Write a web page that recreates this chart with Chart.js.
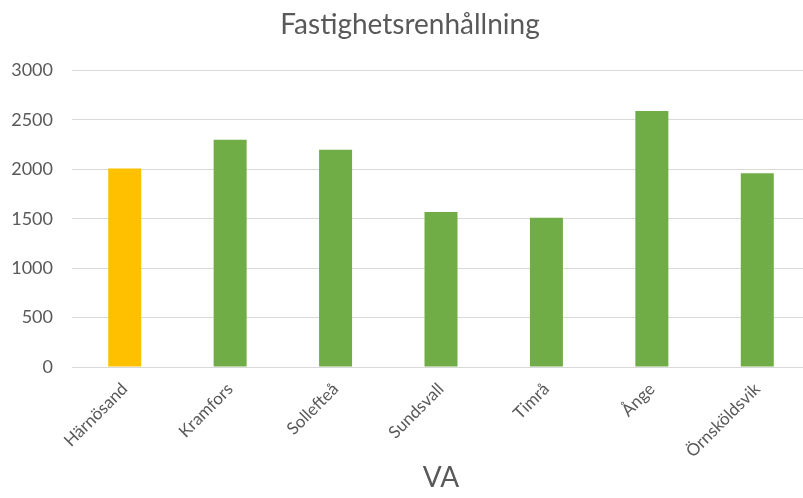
<!DOCTYPE html>
<html lang="sv">
<head>
<meta charset="utf-8">
<title>Fastighetsrenhållning</title>
<script src="https://cdn.jsdelivr.net/npm/chart.js@4"></script>
<style>
  html, body { margin: 0; padding: 0; background: #fff; overflow: hidden; }
  #ruta { width: 826px; height: 498px; }
</style>
</head>
<body>
<div id="ruta"><canvas id="grafica"></canvas></div>
<script>
// Kommuner och kostnad per kommun
const kommuner = ['Härnösand', 'Kramfors', 'Sollefteå', 'Sundsvall', 'Timrå', 'Ånge', 'Örnsköldsvik'];
const kostnad = [2010, 2300, 2200, 1570, 1510, 2590, 1960];
const markerad = 'Härnösand';

const yMin = 0;
const yMax = 3000;
const ySteg = 500;

const orange = '#FFC000';
const gron = '#70AD47';
const textFarg = '#595959';
const rutnat = '#D9D9D9';

Chart.defaults.font.family = 'Lato, "Open Sans", sans-serif';
Chart.defaults.color = textFarg;

let miGrafica = new Chart(document.getElementById('grafica').getContext('2d'), {
    type: 'bar',
    data: {
        labels: kommuner,
        datasets: [{
            label: 'Fastighetsrenhållning',
            data: kostnad,
            backgroundColor: ctx => kommuner[ctx.dataIndex] === markerad ? orange : gron,
            borderWidth: 0,
            categoryPercentage: 1,
            barPercentage: 0.313
        }]
    },
    options: {
        responsive: true,
        maintainAspectRatio: false,
        animation: false,
        layout: { padding: { left: 10, right: 16, top: 0, bottom: 0 } },
        plugins: {
            legend: { display: false },
            tooltip: { enabled: false },
            title: {
                display: true,
                text: 'Fastighetsrenhållning',
                color: textFarg,
                font: { size: 28, weight: 'normal' },
                padding: { top: 8, bottom: 29 }
            }
        },
        scales: {
            x: {
                grid: { display: false, drawTicks: false },
                border: { display: false },
                ticks: {
                    color: textFarg,
                    font: { size: 17 },
                    minRotation: 45,
                    maxRotation: 45,
                    padding: 12
                },
                title: {
                    display: true,
                    text: 'VA',
                    color: textFarg,
                    font: { size: 28 },
                    padding: { top: 0, bottom: 3 }
                },
                afterFit: scale => { scale.height = 131; }
            },
            y: {
                min: yMin,
                max: yMax,
                grid: { color: rutnat, lineWidth: 1, drawTicks: false },
                border: { display: false },
                ticks: {
                    stepSize: ySteg,
                    color: textFarg,
                    font: { size: 18 },
                    padding: 19,
                    callback: v => String(v)
                },
                afterFit: scale => { scale.width = 62; }
            }
        }
    }
});
</script>
</body>
</html>
